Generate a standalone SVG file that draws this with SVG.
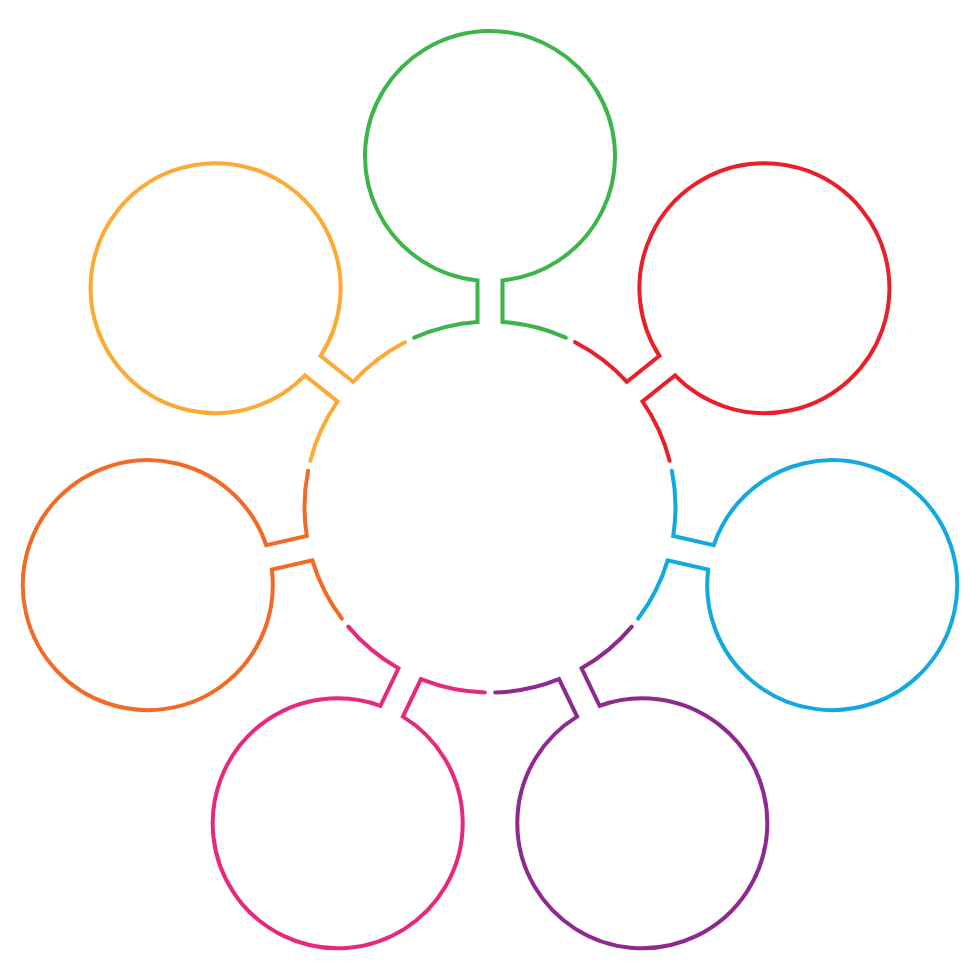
<svg xmlns="http://www.w3.org/2000/svg" xmlns:xlink="http://www.w3.org/1999/xlink" width="980" height="980" viewBox="0 0 980 980">
  <defs>
    <style>
      .petal { fill: none; stroke-width: 4; stroke-linecap: round; stroke-linejoin: miter; stroke-miterlimit: 10; }
    </style>
    <path id="petal" d="M414.20,337.69 A185.5,185.5 0 0 1 477.5,321.92 L477.5,280.37 A125,125 0 1 1 502.5,280.37 L502.5,321.92 A185.5,185.5 0 0 1 565.80,337.69"/>
  </defs>
  <rect width="980" height="980" fill="#ffffff"/>
  <g id="node-green"><use xlink:href="#petal" class="petal" stroke="#3cb54a" transform="rotate(0 490 507)"/></g>
  <g id="node-red"><use xlink:href="#petal" class="petal" stroke="#e8202a" transform="rotate(51.4286 490 507)"/></g>
  <g id="node-blue"><use xlink:href="#petal" class="petal" stroke="#12a8e0" transform="rotate(102.8571 490 507)"/></g>
  <g id="node-purple"><use xlink:href="#petal" class="petal" stroke="#8e2a8f" transform="rotate(154.2857 490 507)"/></g>
  <g id="node-pink"><use xlink:href="#petal" class="petal" stroke="#e6297c" transform="rotate(205.7143 490 507)"/></g>
  <g id="node-orange"><use xlink:href="#petal" class="petal" stroke="#f26a26" transform="rotate(257.1429 490 507)"/></g>
  <g id="node-yellow"><use xlink:href="#petal" class="petal" stroke="#fbab35" transform="rotate(308.5714 490 507)"/></g>
  <g id="connectors"></g>
</svg>
